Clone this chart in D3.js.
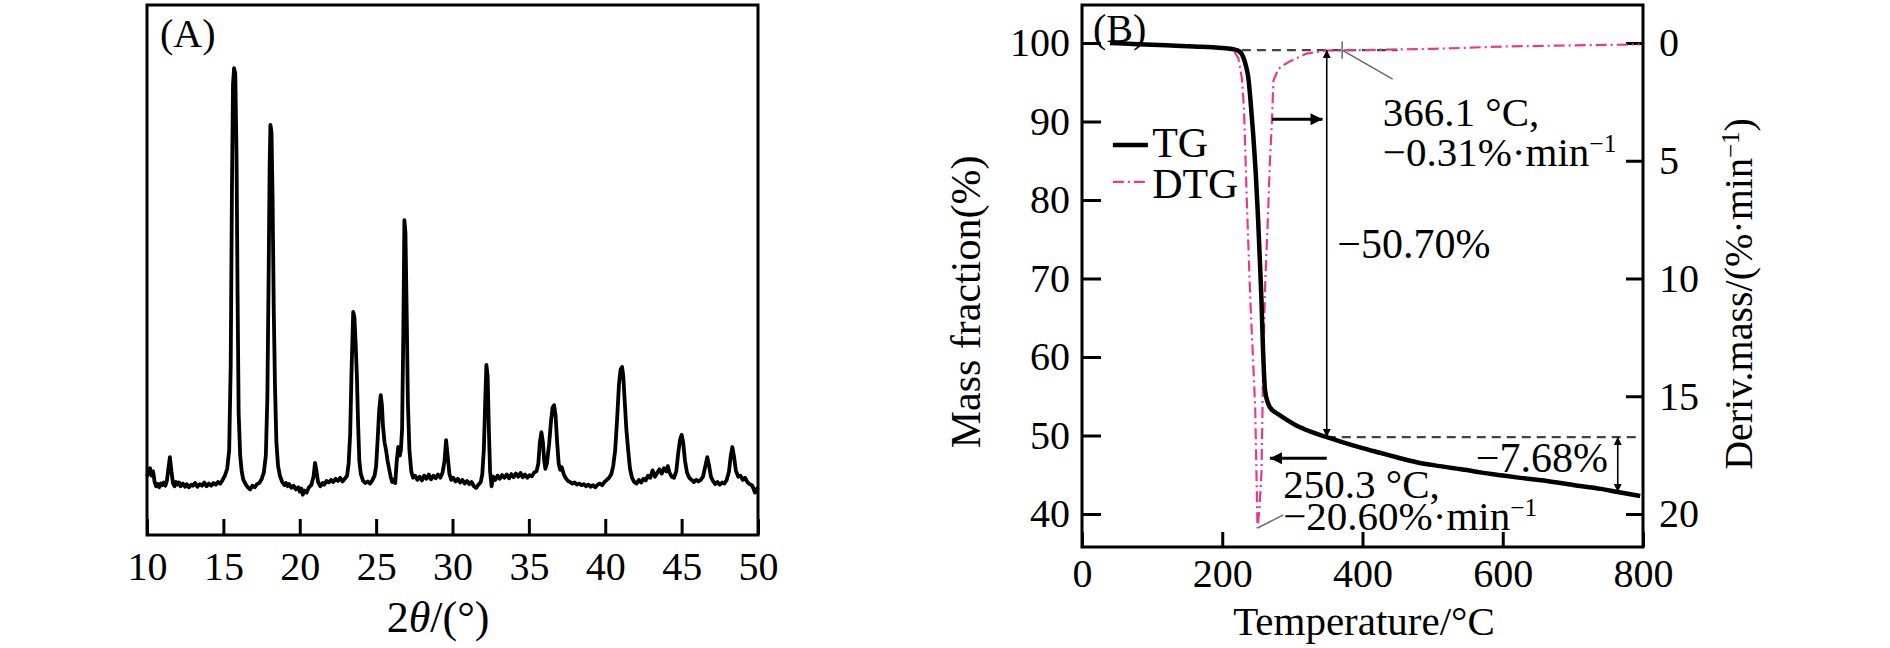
<!DOCTYPE html>
<html>
<head>
<meta charset="utf-8">
<style>
  body { margin: 0; background: #fff; }
  svg text { font-family: "Liberation Serif", "DejaVu Serif", serif; fill: #000; }
</style>
</head>
<body>
<svg id="chart" width="1890" height="648"></svg>
<script src="https://d3js.org/d3.v7.min.js"></script>
<script>
// (A) XRD pattern: [2theta (deg), intensity (a.u.)]
const xrdPoints = [
  [10.0,110],[10.1,118],[10.2,126],[10.3,112],[10.4,120],[10.5,100],[10.6,92],[10.7,96],[10.8,90],[10.9,97],
  [11.0,94],[11.1,99],[11.2,93],[11.3,102],[11.4,125],[11.5,147],[11.6,120],[11.7,98],[11.8,92],[11.9,100],
  [12.0,95],[12.1,99],[12.2,92],[12.35,97],[12.5,91],[12.6,96],[12.75,90],[12.9,95],[13.0,93],[13.15,98],
  [13.3,91],[13.45,96],[13.6,93],[13.75,99],[13.9,92],[14.05,97],[14.2,93],[14.35,98],[14.5,95],[14.65,100],
  [14.8,97],[14.95,104],[15.1,112],[15.25,125],[15.38,160],[15.48,320],[15.56,650],[15.63,850],[15.7,881],
  [15.78,870],[15.86,720],[15.93,450],[16.0,230],[16.1,150],[16.2,120],[16.3,105],[16.45,96],[16.6,90],
  [16.75,86],[16.9,93],[17.05,90],[17.2,96],[17.35,98],[17.5,105],[17.65,118],[17.78,150],[17.88,260],
  [17.96,480],[18.03,700],[18.08,774],[18.15,760],[18.22,640],[18.3,420],[18.38,280],[18.47,175],[18.58,130],
  [18.7,112],[18.85,100],[19.0,94],[19.1,98],[19.2,92],[19.3,96],[19.45,89],[19.6,93],[19.75,86],[19.9,90],
  [20.0,82],[20.1,88],[20.2,76],[20.3,84],[20.45,80],[20.6,90],[20.75,94],[20.9,110],[21.0,136],[21.1,120],
  [21.2,100],[21.35,92],[21.5,98],[21.6,95],[21.75,102],[21.9,99],[22.05,104],[22.2,100],[22.35,106],
  [22.5,102],[22.65,108],[22.8,101],[22.95,106],[23.1,112],[23.2,135],[23.3,190],[23.4,320],[23.5,421],
  [23.58,410],[23.66,360],[23.74,300],[23.82,210],[23.9,140],[24.0,115],[24.15,102],[24.3,98],
  [24.45,101],[24.6,97],[24.75,103],[24.9,112],[25.0,130],[25.1,180],[25.2,235],[25.3,264],[25.38,245],
  [25.45,205],[25.55,175],[25.65,160],[25.75,140],[25.85,125],[25.95,110],[26.05,100],[26.15,104],[26.25,98],
  [26.35,140],[26.45,166],[26.55,150],[26.62,160],[26.7,200],[26.78,380],[26.85,594],[26.92,570],[27.0,420],
  [27.08,250],[27.18,160],[27.3,120],[27.42,108],[27.55,112],[27.7,104],[27.85,110],[28.0,103],[28.15,112],
  [28.3,106],[28.45,114],[28.6,105],[28.75,112],[28.9,107],[29.05,114],[29.2,108],[29.35,118],[29.48,140],
  [29.58,179],[29.68,150],[29.8,115],[29.92,104],[30.05,108],[30.2,101],[30.35,106],[30.5,99],[30.65,104],
  [30.8,97],[30.95,102],[31.1,96],[31.25,100],[31.4,92],[31.55,89],[31.7,95],[31.85,100],[31.95,115],
  [32.05,160],[32.15,260],[32.22,321],[32.3,300],[32.38,200],[32.46,120],[32.56,92],[32.66,110],[32.8,104],
  [32.95,112],[33.1,106],[33.25,113],[33.4,108],[33.55,114],[33.7,107],[33.85,115],[34.0,109],[34.15,116],
  [34.3,110],[34.45,117],[34.6,109],[34.75,114],[34.9,108],[35.05,113],[35.2,111],[35.35,118],[35.5,120],
  [35.62,135],[35.72,175],[35.82,194],[35.92,175],[36.0,141],[36.08,125],[36.18,135],[36.32,170],[36.45,215],
  [36.55,240],[36.65,245],[36.75,225],[36.85,175],[36.95,135],[37.05,123],[37.15,128],[37.28,115],[37.4,108],
  [37.55,102],[37.7,100],[37.85,97],[38.0,99],[38.15,95],[38.3,97],[38.45,94],[38.6,96],[38.75,92],[38.9,95],
  [39.05,91],[39.2,94],[39.35,90],[39.5,95],[39.65,97],[39.8,94],[39.95,100],[40.1,104],[40.25,108],[40.4,115],
  [40.52,130],[40.65,160],[40.78,220],[40.9,285],[41.0,312],[41.1,317],[41.18,300],[41.28,250],[41.38,200],
  [41.5,160],[41.62,125],[41.75,108],[41.9,100],[42.05,97],[42.2,104],[42.35,99],[42.5,106],[42.65,103],
  [42.8,112],[42.95,108],[43.1,122],[43.25,110],[43.4,117],[43.55,124],[43.7,116],[43.85,126],[44.0,120],
  [44.1,130],[44.2,118],[44.35,110],[44.5,108],[44.65,120],[44.78,155],[44.9,180],[45.0,189],[45.1,175],
  [45.22,140],[45.35,118],[45.5,108],[45.65,104],[45.8,100],[45.95,104],[46.1,101],[46.25,104],[46.4,110],
  [46.55,130],[46.68,147],[46.8,130],[46.92,110],[47.05,102],[47.2,96],[47.35,100],[47.5,95],[47.65,99],
  [47.8,97],[47.95,104],[48.1,120],[48.22,150],[48.32,166],[48.42,150],[48.55,122],[48.7,110],[48.85,112],
  [49.0,104],[49.15,108],[49.3,100],[49.45,96],[49.6,94],[49.7,88],[49.8,80],[49.9,86],[50.0,90]
];
const xrdTicks = [10, 15, 20, 25, 30, 35, 40, 45, 50];

// (B) thermogravimetry: [temperature (°C), mass fraction (%)]
const tgPoints = [
  [40,100.0],[80,99.85],[120,99.7],[160,99.55],[200,99.35],[216,99.2],[225,98.9],[230,98.2],[234,97.0],
  [237,95.7],[240,93.0],[244,88.5],[248,83.0],[251,77.8],[254,71.5],[256,67.0],[258,61.3],[261,55.8],
  [265,54.2],[268,53.6],[280,52.7],[292,52.0],[305,51.3],[320,50.7],[335,50.2],[349,49.8],[370,49.2],
  [400,48.4],[425,47.8],[450,47.2],[477,46.6],[510,46.1],[549,45.6],[568,45.3],[600,44.9],[625,44.6],
  [663,44.2],[700,43.7],[740,43.2],[764,42.8],[796,42.3]
];
// DTG: [temperature (°C), mass loss rate (%·min-1), plotted downward]
const dtgPoints = [
  [40,0.02],[100,0.06],[150,0.1],[200,0.2],[216,0.3],[223,0.65],[228,1.5],[231,2.8],[235,6.7],[240,10.9],
  [244,13.5],[247,15.5],[250.3,20.6],[253,19.8],[256,18.2],[258,14.3],[261,10.4],[265,7.5],[268,5.0],
  [271,3.2],[273,1.6],[280,1.1],[292,0.85],[320,0.45],[349,0.32],[366.1,0.31],[400,0.3],[450,0.27],
  [500,0.25],[600,0.15],[700,0.1],[795,0.06]
];
const tempTicks = [0, 200, 400, 600, 800];
const massTicks = [40, 50, 60, 70, 80, 90, 100];
const rateTicks = [0, 5, 10, 15, 20];

const pink = '#e8398f';
const svg = d3.select('#chart');

const defs = svg.append('defs');
defs.append('marker')
  .attr('id', 'head')
  .attr('viewBox', '0 0 10 10')
  .attr('refX', 10).attr('refY', 5)
  .attr('markerUnits', 'userSpaceOnUse')
  .attr('markerWidth', 16).attr('markerHeight', 12)
  .attr('orient', 'auto-start-reverse')
  .append('path').attr('d', 'M0,0L10,5L0,10Z').attr('fill', '#000');
defs.append('marker')
  .attr('id', 'headThin')
  .attr('viewBox', '0 0 10 10')
  .attr('refX', 10).attr('refY', 5)
  .attr('markerUnits', 'userSpaceOnUse')
  .attr('markerWidth', 14).attr('markerHeight', 8)
  .attr('orient', 'auto-start-reverse')
  .append('path').attr('d', 'M0,0L10,5L0,10Z').attr('fill', '#000');

function styleAxis(g, size) {
  g.select('.domain').remove();
  g.attr('font-family', null).attr('font-size', size);
  g.selectAll('.tick line').attr('stroke', '#000').attr('stroke-width', 3);
}

// ---------- panel A ----------
const ax = d3.scaleLinear().domain([10, 50]).range([147, 758]);
const ay = d3.scaleLinear().domain([0, 1000]).range([535, 5]);

svg.append('g')
  .attr('transform', 'translate(0,535)')
  .call(d3.axisBottom(ax).tickValues(xrdTicks).tickSize(-16).tickPadding(17))
  .call((g) => styleAxis(g, 40));

svg.append('path')
  .attr('d', d3.line().x((d) => ax(d[0])).y((d) => ay(d[1]))(xrdPoints))
  .attr('fill', 'none')
  .attr('stroke', '#000')
  .attr('stroke-width', 3.8)
  .attr('stroke-linejoin', 'round');

svg.append('rect')
  .attr('x', ax(10)).attr('y', ay(1000))
  .attr('width', ax(50) - ax(10)).attr('height', ay(0) - ay(1000))
  .attr('fill', 'none').attr('stroke', '#000').attr('stroke-width', 3);

svg.append('text').attr('x', ax(10) + 13).attr('y', 47).attr('font-size', 40).text('(A)');

const xTitleA = svg.append('text')
  .attr('x', 438).attr('y', 632)
  .attr('text-anchor', 'middle')
  .attr('font-size', 44);
xTitleA.append('tspan').text('2');
xTitleA.append('tspan').attr('font-style', 'italic').text('θ');
xTitleA.append('tspan').text('/(°)');

// ---------- panel B ----------
const tx = d3.scaleLinear().domain([0, 800]).range([1082, 1643]);
const my = d3.scaleLinear().domain([40, 100]).range([514, 43]);
const ry = d3.scaleLinear().domain([0, 20]).range([43, 514]);
const topB = 5, bottomB = 547;

svg.append('g')
  .attr('transform', `translate(0,${bottomB})`)
  .call(d3.axisBottom(tx).tickValues(tempTicks).tickSize(-15).tickPadding(12))
  .call((g) => styleAxis(g, 40));
svg.append('g')
  .attr('transform', `translate(${tx(0)},0)`)
  .call(d3.axisLeft(my).tickValues(massTicks).tickSize(-19).tickPadding(12))
  .call((g) => styleAxis(g, 40));
svg.append('g')
  .attr('transform', `translate(${tx(800)},0)`)
  .call(d3.axisRight(ry).tickValues(rateTicks).tickSize(-17).tickPadding(16))
  .call((g) => styleAxis(g, 40));

// dashed reference levels
const dash = svg.append('g')
  .attr('stroke', '#444').attr('stroke-width', 2.2).attr('stroke-dasharray', '9,6').attr('fill', 'none');
dash.append('line').attr('x1', tx(228)).attr('x2', tx(450)).attr('y1', my(99.1)).attr('y2', my(99.1));
dash.append('line').attr('x1', tx(349)).attr('x2', tx(792)).attr('y1', my(49.8)).attr('y2', my(49.8));

// DTG
svg.append('path')
  .attr('d', d3.line().x((d) => tx(d[0])).y((d) => ry(d[1]))(dtgPoints))
  .attr('fill', 'none')
  .attr('stroke', pink)
  .attr('stroke-width', 2.2)
  .attr('stroke-dasharray', '11,4,2,4');

// TG
svg.append('path')
  .attr('d', d3.line().x((d) => tx(d[0])).y((d) => my(d[1])).curve(d3.curveMonotoneX)(tgPoints))
  .attr('fill', 'none')
  .attr('stroke', '#000')
  .attr('stroke-width', 4.5);

svg.append('rect')
  .attr('x', tx(0)).attr('y', topB)
  .attr('width', tx(800) - tx(0)).attr('height', bottomB - topB)
  .attr('fill', 'none').attr('stroke', '#000').attr('stroke-width', 3);

// arrows
const arrows = svg.append('g').attr('stroke', '#000').attr('fill', 'none');
arrows.append('line')
  .attr('x1', tx(349)).attr('x2', tx(349)).attr('y1', my(99.1)).attr('y2', my(49.8))
  .attr('stroke-width', 1.6)
  .attr('marker-start', 'url(#headThin)').attr('marker-end', 'url(#headThin)');
arrows.append('line')
  .attr('x1', tx(764)).attr('x2', tx(764)).attr('y1', my(49.8)).attr('y2', my(42.8))
  .attr('stroke-width', 1.6)
  .attr('marker-start', 'url(#headThin)').attr('marker-end', 'url(#headThin)');
arrows.append('line')
  .attr('x1', tx(271)).attr('x2', tx(343)).attr('y1', my(90.3)).attr('y2', my(90.3))
  .attr('stroke-width', 3).attr('marker-end', 'url(#head)');
arrows.append('line')
  .attr('x1', tx(349)).attr('x2', tx(268)).attr('y1', my(47.1)).attr('y2', my(47.1))
  .attr('stroke-width', 3).attr('marker-end', 'url(#head)');

// leader lines to the DTG points
const leaders = svg.append('g').attr('stroke', '#666').attr('stroke-width', 1.5);
leaders.append('line').attr('x1', tx(371)).attr('y1', my(99.1)).attr('x2', tx(443)).attr('y2', my(95.4));
leaders.append('line').attr('x1', tx(371)).attr('y1', my(100.2)).attr('x2', tx(371)).attr('y2', my(98.0));
leaders.append('line').attr('x1', tx(250.3)).attr('y1', ry(20.6)).attr('x2', tx(287)).attr('y2', ry(20.04));

function richText(x, y, parts, size, anchor) {
  const t = svg.append('text')
    .attr('x', x).attr('y', y)
    .attr('font-size', size)
    .attr('text-anchor', anchor || 'start');
  parts.forEach((p) => {
    const s = t.append('tspan').text(p[0]);
    if (p[1]) s.attr('baseline-shift', 'super').attr('font-size', size * 0.62);
  });
  return t;
}

richText(tx(429), my(89.4), [['366.1 °C,']], 41);
richText(tx(429), my(84.3), [['−0.31%·min'], ['−1', true]], 41);
richText(tx(364), my(72.6), [['−50.70%']], 42);
richText(tx(750), my(45.35), [['−7.68%']], 42, 'end');
richText(tx(287), my(42.1), [['250.3 °C,']], 41);
richText(tx(287), my(37.9), [['−20.60%·min'], ['−1', true]], 41);

// legend
svg.append('line')
  .attr('x1', tx(44)).attr('x2', tx(94)).attr('y1', my(87.0)).attr('y2', my(87.0))
  .attr('stroke', '#000').attr('stroke-width', 4.5);
svg.append('line')
  .attr('x1', tx(44)).attr('x2', tx(94)).attr('y1', my(82.3)).attr('y2', my(82.3))
  .attr('stroke', pink).attr('stroke-width', 2.2).attr('stroke-dasharray', '11,4,2,4');
richText(tx(100), my(85.45), [['TG']], 42);
richText(tx(100), my(80.3), [['DTG']], 42);

svg.append('text').attr('x', tx(0) + 11).attr('y', 42).attr('font-size', 40).text('(B)');

svg.append('text')
  .attr('x', 1364).attr('y', 635)
  .attr('text-anchor', 'middle').attr('font-size', 41)
  .text('Temperature/°C');

svg.append('text')
  .attr('transform', 'translate(965,302) rotate(-90)')
  .attr('text-anchor', 'middle').attr('dy', '0.35em').attr('font-size', 42)
  .text('Mass fraction(%)');

const rTitle = svg.append('text')
  .attr('transform', 'translate(1738,294) rotate(-90)')
  .attr('text-anchor', 'middle').attr('dy', '0.35em').attr('font-size', 40);
rTitle.append('tspan').text('Deriv.mass/(%·min');
rTitle.append('tspan').attr('baseline-shift', 'super').attr('font-size', 25).text('−1');
rTitle.append('tspan').text(')');
</script>
</body>
</html>
